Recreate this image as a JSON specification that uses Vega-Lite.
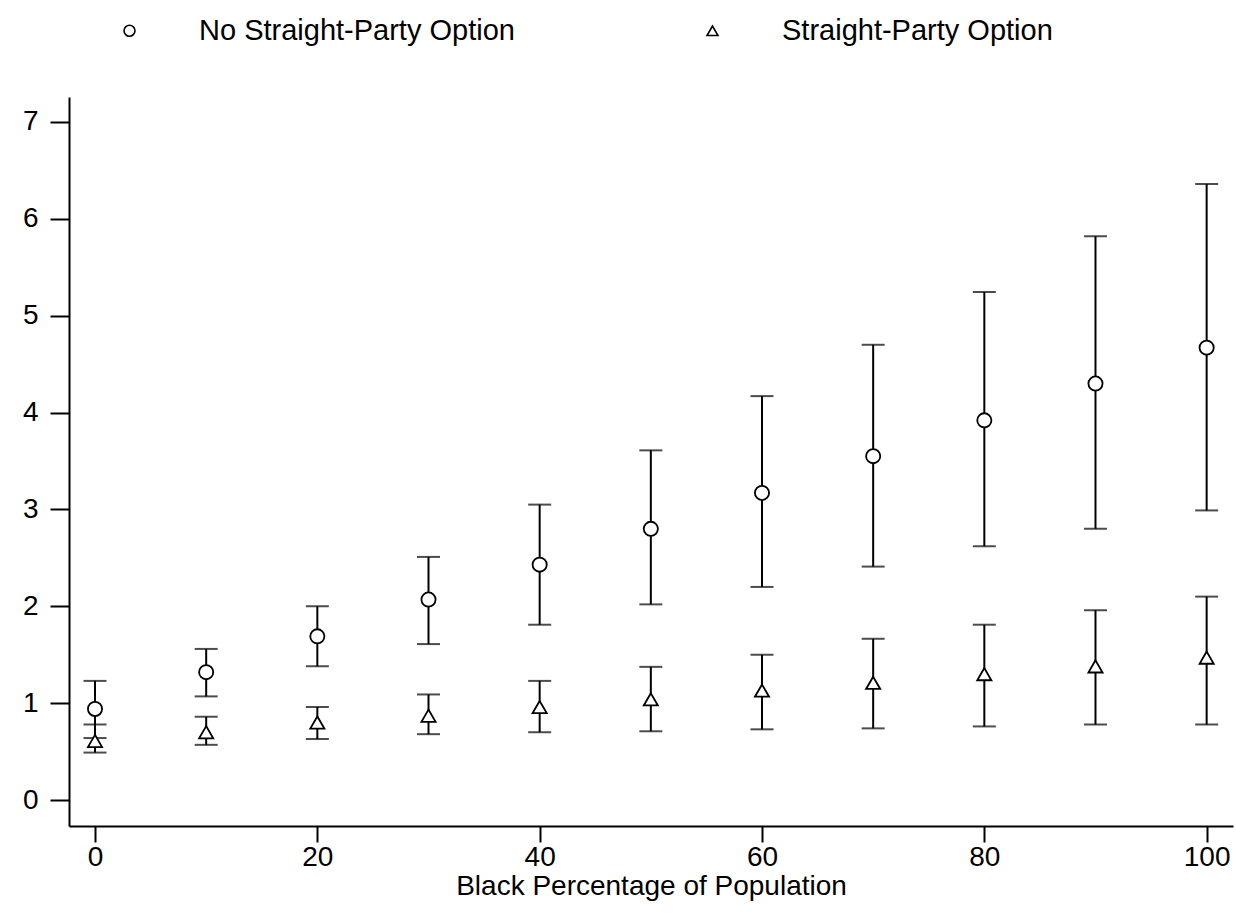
{
  "$schema": "https://vega.github.io/schema/vega-lite/v6.json",
  "width": 1164,
  "height": 729,
  "autosize": {"type": "none"},
  "padding": {"left": 69, "top": 97, "right": 3, "bottom": 89},
  "background": "white",
  "data": {
    "values": [
      {"pct": 0, "group": "No Straight-Party Option", "mean": 0.94, "lo": 0.64, "hi": 1.23},
      {"pct": 10, "group": "No Straight-Party Option", "mean": 1.32, "lo": 1.07, "hi": 1.56},
      {"pct": 20, "group": "No Straight-Party Option", "mean": 1.69, "lo": 1.38, "hi": 2.0},
      {"pct": 30, "group": "No Straight-Party Option", "mean": 2.07, "lo": 1.61, "hi": 2.51},
      {"pct": 40, "group": "No Straight-Party Option", "mean": 2.43, "lo": 1.81, "hi": 3.05},
      {"pct": 50, "group": "No Straight-Party Option", "mean": 2.8, "lo": 2.02, "hi": 3.61},
      {"pct": 60, "group": "No Straight-Party Option", "mean": 3.17, "lo": 2.2, "hi": 4.17},
      {"pct": 70, "group": "No Straight-Party Option", "mean": 3.55, "lo": 2.41, "hi": 4.7},
      {"pct": 80, "group": "No Straight-Party Option", "mean": 3.92, "lo": 2.62, "hi": 5.245},
      {"pct": 90, "group": "No Straight-Party Option", "mean": 4.3, "lo": 2.8, "hi": 5.82},
      {"pct": 100, "group": "No Straight-Party Option", "mean": 4.67, "lo": 2.99, "hi": 6.36},
      {"pct": 0, "group": "Straight-Party Option", "mean": 0.61, "lo": 0.49, "hi": 0.78},
      {"pct": 10, "group": "Straight-Party Option", "mean": 0.7, "lo": 0.57, "hi": 0.86},
      {"pct": 20, "group": "Straight-Party Option", "mean": 0.8, "lo": 0.63, "hi": 0.96},
      {"pct": 30, "group": "Straight-Party Option", "mean": 0.87, "lo": 0.68, "hi": 1.09},
      {"pct": 40, "group": "Straight-Party Option", "mean": 0.96, "lo": 0.7, "hi": 1.23},
      {"pct": 50, "group": "Straight-Party Option", "mean": 1.04, "lo": 0.71, "hi": 1.375},
      {"pct": 60, "group": "Straight-Party Option", "mean": 1.13, "lo": 0.73, "hi": 1.5},
      {"pct": 70, "group": "Straight-Party Option", "mean": 1.21, "lo": 0.74, "hi": 1.665},
      {"pct": 80, "group": "Straight-Party Option", "mean": 1.3, "lo": 0.76, "hi": 1.81},
      {"pct": 90, "group": "Straight-Party Option", "mean": 1.38, "lo": 0.78, "hi": 1.96},
      {"pct": 100, "group": "Straight-Party Option", "mean": 1.47, "lo": 0.78, "hi": 2.1}
    ]
  },
  "encoding": {
    "x": {
      "field": "pct",
      "type": "quantitative",
      "scale": {"domain": [-2.34, 102.37], "nice": false, "zero": false},
      "axis": {
        "title": "Black Percentage of Population",
        "values": [0, 20, 40, 60, 80, 100],
        "tickSize": 16,
        "labelPadding": 1,
        "titlePadding": 1
      }
    }
  },
  "layer": [
    {
      "mark": {"type": "rule", "color": "black", "strokeWidth": 2},
      "encoding": {
        "y": {"field": "lo", "type": "quantitative"},
        "y2": {"field": "hi"}
      }
    },
    {
      "mark": {"type": "tick", "orient": "horizontal", "color": "black", "size": 23, "thickness": 2},
      "encoding": {"y": {"field": "lo", "type": "quantitative"}}
    },
    {
      "mark": {"type": "tick", "orient": "horizontal", "color": "black", "size": 23, "thickness": 2},
      "encoding": {"y": {"field": "hi", "type": "quantitative"}}
    },
    {
      "mark": {"type": "point", "filled": false, "fill": "white", "fillOpacity": 1, "stroke": "black", "strokeWidth": 1.8, "opacity": 1, "size": 200},
      "encoding": {
        "y": {
          "field": "mean",
          "type": "quantitative",
          "scale": {"domain": [-0.268, 7.258], "nice": false, "zero": false},
          "axis": {"title": null, "values": [0, 1, 2, 3, 4, 5, 6, 7], "format": "d", "tickSize": 19, "labelPadding": 12}
        },
        "shape": {
          "field": "group",
          "type": "nominal",
          "scale": {"domain": ["No Straight-Party Option", "Straight-Party Option"], "range": ["circle", "triangle-up"]},
          "legend": {
            "title": null,
            "orient": "none",
            "legendX": 46,
            "legendY": -81,
            "direction": "horizontal",
            "columns": 2,
            "columnPadding": 183,
            "symbolSize": 120,
            "symbolStrokeWidth": 1.6,
            "labelOffset": 55,
            "labelFontSize": 29,
            "labelFont": "Liberation Sans",
            "labelColor": "black",
            "labelLimit": 0,
            "padding": 0,
            "encode": {
              "symbols": {
                "update": {
                  "stroke": {"value": "black"},
                  "fill": {"value": "white"},
                  "strokeWidth": {"value": 1.6},
                  "opacity": {"value": 1}
                }
              }
            }
          }
        }
      }
    }
  ],
  "resolve": {"scale": {"y": "shared"}},
  "config": {
    "view": {"stroke": null},
    "font": "Liberation Sans",
    "axis": {
      "grid": false,
      "domainColor": "black",
      "domainWidth": 2,
      "tickColor": "black",
      "tickWidth": 2,
      "labelFont": "Liberation Sans",
      "labelFontSize": 28,
      "labelColor": "black",
      "titleFont": "Liberation Sans",
      "titleFontSize": 28,
      "titleFontWeight": "normal",
      "titleColor": "black"
    }
  }
}
